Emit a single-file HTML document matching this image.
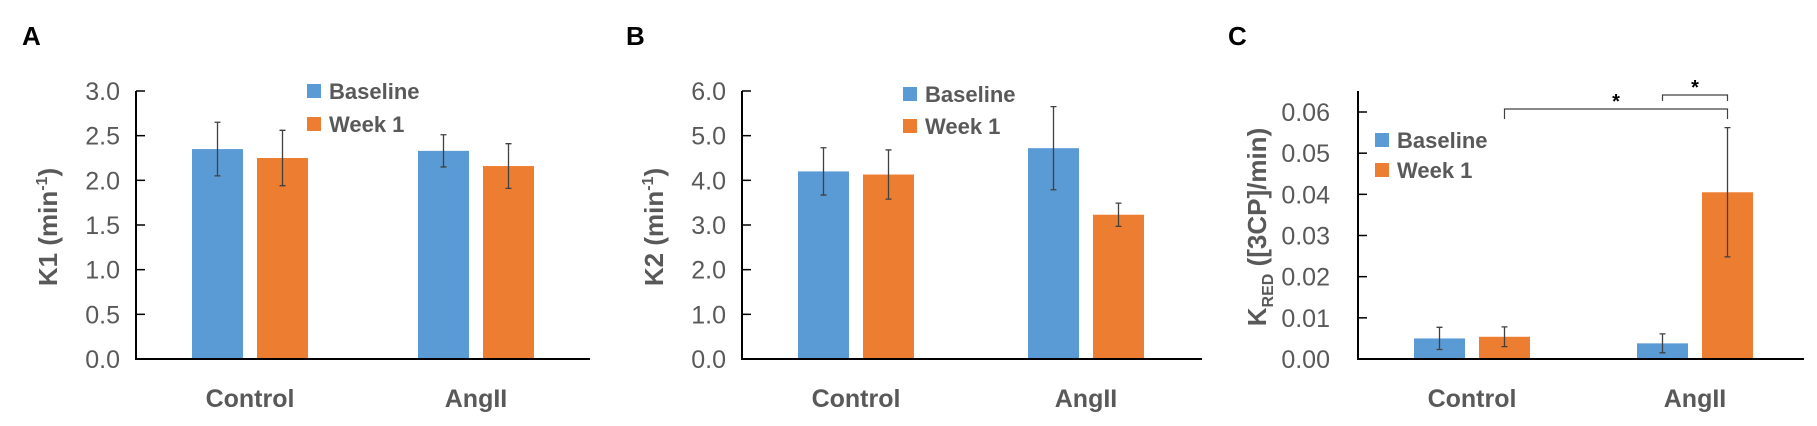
<!DOCTYPE html>
<html><head><meta charset="utf-8"><style>
html,body{margin:0;padding:0;background:#fff}
svg{display:block;font-family:"Liberation Sans",sans-serif}
</style></head><body>
<svg id="fig" width="1817" height="426" viewBox="0 0 1817 426" xmlns="http://www.w3.org/2000/svg"></svg>
<script>
const categories = ["Control","AngII"];
const seriesNames = ["Baseline","Week 1"];
const k1Baseline = [2.35, 2.33];
const k1BaselineErr = [0.30, 0.18];
const k1Week1 = [2.25, 2.16];
const k1Week1Err = [0.31, 0.25];
const k2Baseline = [4.20, 4.72];
const k2BaselineErr = [0.53, 0.93];
const k2Week1 = [4.13, 3.23];
const k2Week1Err = [0.55, 0.26];
const kredBaseline = [0.0050, 0.0038];
const kredBaselineErr = [0.0027, 0.0023];
const kredWeek1 = [0.0054, 0.0405];
const kredWeek1Err = [0.0024, 0.0157];
const k1Ticks = ["0.0","0.5","1.0","1.5","2.0","2.5","3.0"];
const k2Ticks = ["0.0","1.0","2.0","3.0","4.0","5.0","6.0"];
const kredTicks = ["0.00","0.01","0.02","0.03","0.04","0.05","0.06"];

const NS="http://www.w3.org/2000/svg";
const svg=document.getElementById('fig');
function mk(tag,attrs,parent,text){const e=document.createElementNS(NS,tag);for(const k in attrs)e.setAttribute(k,attrs[k]);if(text!==undefined)e.textContent=text;(parent||svg).appendChild(e);return e;}
const BLUE="#5b9bd5",ORANGE="#ed7d31",GRAY="#595959";

function panel(o){
  const g=mk('g',{});
  
  
  const y0=359,yTop=91;
  const ymax=o.max;
  const Y=v=>y0-(v/ymax)*(y0-yTop);
  const X=(ci,si)=>o.x0+o.catOff[ci]+si*65;
  const lbl=mk('text',{x:o.letterX,y:45,'font-size':26,'font-weight':'bold',fill:'#000'},g,o.letter);
  
  
  // ticks
  o.ticks.forEach((t,i)=>{
    const v=ymax*i/(o.ticks.length-1);
    const tl=mk('line',{x1:o.ax,x2:o.ax+9,y1:Y(v),y2:Y(v),stroke:'#000','stroke-width':1.5},g);
    
    
    const tx=mk('text',{x:o.ax-16,y:Y(v)+9,'font-size':25,fill:GRAY,'text-anchor':'end'},g,t);
    
    
  });
  // bars
  o.series.forEach((s,si)=>{
    s.vals.forEach((v,ci)=>{
      const x=X(ci,si);
      const r=mk('rect',{x:x,y:Y(v),width:51,height:y0-Y(v),fill:si?ORANGE:BLUE},g);
      
      
      const cx=x+25.5,hi=Y(v+s.err[ci]),lo=Y(v-s.err[ci]);
      const eb=mk('path',{d:`M${cx},${hi}V${lo}M${cx-3},${hi}H${cx+3}M${cx-3},${lo}H${cx+3}`,stroke:'#404040','stroke-width':1.3,fill:'none'},g);
      
      
    });
  });
  const ax=mk('path',{d:`M${o.ax},${yTop}V${y0}H${o.axEnd}`,stroke:'#000','stroke-width':2,fill:'none'},g);
  
  
  categories.forEach((c,ci)=>{
    const t=mk('text',{x:X(ci,0)+58,y:407,'font-size':25,'font-weight':'bold',fill:GRAY,'text-anchor':'middle'},g,c);
    
    
  });
  // legend
  seriesNames.forEach((n,si)=>{
    const ly=o.legY+si*o.legGap;
    const sq=mk('rect',{x:o.legX,y:ly,width:14,height:14,fill:si?ORANGE:BLUE},g);
    
    
    const lt=mk('text',{x:o.legX+22,y:ly+15,'font-size':22,'font-weight':'bold',fill:GRAY},g,n);
    
    
  });
  return {g,Y,X};
}

const a=panel({name:'k1',letter:'A',letterX:22,x0:192,catOff:[0,226],ax:136,axEnd:590,max:3,ticks:k1Ticks,
  series:[{vals:k1Baseline,err:k1BaselineErr},{vals:k1Week1,err:k1Week1Err}],legX:307,legY:84,legGap:33});
let t=mk('text',{transform:'translate(57,227) rotate(-90)','font-size':26,'font-weight':'bold',fill:GRAY,'text-anchor':'middle'},a.g);


t.innerHTML='K1 (min<tspan dy="-10" font-size="16">-1</tspan><tspan dy="10">)</tspan>';

const b=panel({name:'k2',letter:'B',letterX:626,x0:798,catOff:[0,230],ax:742,axEnd:1202,max:6,ticks:k2Ticks,
  series:[{vals:k2Baseline,err:k2BaselineErr},{vals:k2Week1,err:k2Week1Err}],legX:903,legY:87,legGap:32});
t=mk('text',{transform:'translate(663,227) rotate(-90)','font-size':26,'font-weight':'bold',fill:GRAY,'text-anchor':'middle'},b.g);


t.innerHTML='K2 (min<tspan dy="-10" font-size="16">-1</tspan><tspan dy="10">)</tspan>';

const c=panel({name:'kred',letter:'C',letterX:1228,x0:1414,catOff:[0,223],ax:1358,axEnd:1804,max:0.06*(359-91)/(359-112),ticks:[],
  series:[{vals:kredBaseline,err:kredBaselineErr},{vals:kredWeek1,err:kredWeek1Err}],legX:1375,legY:133,legGap:30});
kredTicks.forEach((tk,i)=>{
  const v=0.01*i;
  const tl=mk('line',{x1:1358,x2:1367,y1:c.Y(v),y2:c.Y(v),stroke:'#000','stroke-width':1.5},c.g);
  
  
  const tx=mk('text',{x:1330,y:c.Y(v)+9,'font-size':25,fill:GRAY,'text-anchor':'end'},c.g,tk);
  
  
});
t=mk('text',{transform:'translate(1266,227) rotate(-90)','font-size':26,'font-weight':'bold',fill:GRAY,'text-anchor':'middle'},c.g);


t.innerHTML='K<tspan dy="7" font-size="16">RED</tspan><tspan dy="-7"> ([3CP]/min)</tspan>';
// significance brackets
const bx1=c.X(0,1)+25.5, bx2=c.X(1,1)+25.5, bx3=c.X(1,0)+25.5;
let br=mk('path',{d:`M${bx1},119V109H${bx2}V119`,stroke:'#404040','stroke-width':1.2,fill:'none'},c.g);


br=mk('path',{d:`M${bx3},101V95H${bx2}V101`,stroke:'#404040','stroke-width':1.2,fill:'none'},c.g);


let st=mk('text',{x:(bx1+bx2)/2,y:108,'font-size':20,'font-weight':'bold',fill:'#000','text-anchor':'middle'},c.g,'*');


st=mk('text',{x:(bx3+bx2)/2,y:94,'font-size':20,'font-weight':'bold',fill:'#000','text-anchor':'middle'},c.g,'*');


</script>
</body></html>
